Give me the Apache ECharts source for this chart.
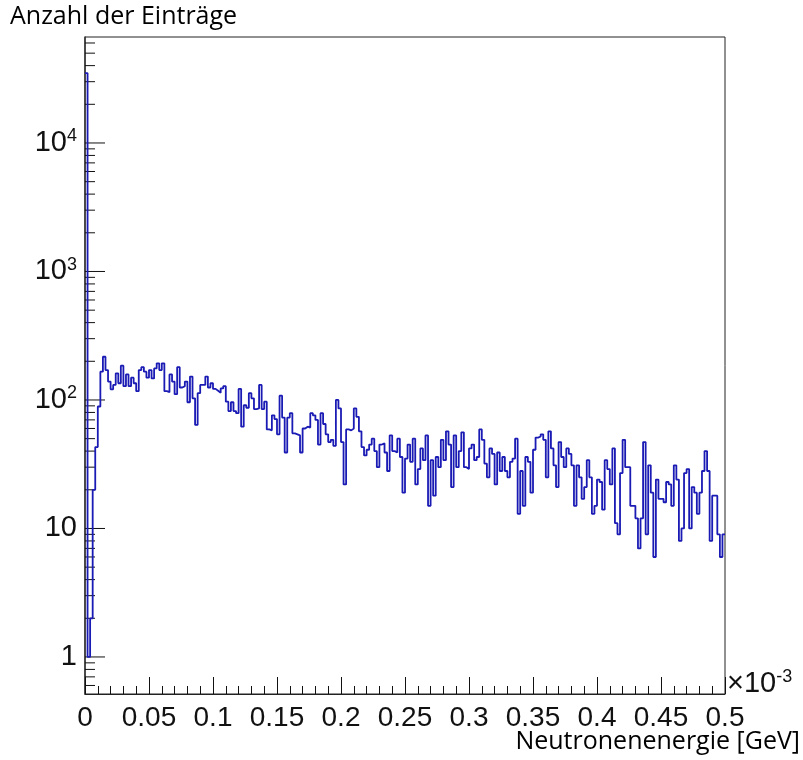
<!DOCTYPE html>
<html>
<head>
<meta charset="utf-8">
<script src="https://cdn.jsdelivr.net/npm/echarts@6/dist/echarts.min.js"></script>
<style>
  html, body { margin: 0; padding: 0; background: #fff; }
  #chart { width: 803px; height: 760px; }
</style>
</head>
<body>
<div id="chart"></div>
<script>
// Neutron energy histogram: 250 bins from 0 to 0.5 (x 10^-3 GeV)
const binWidth = 0.002;
const counts = [
  35000, 1, 2, 20, 43, 89, 166, 217, 171, 139,
  121, 131, 161, 135, 185, 128, 158, 128, 149, 135,
  117, 171, 180, 166, 149, 171, 147, 176, 193, 171,
  193, 117, 115, 158, 139, 111, 180, 125, 128, 139,
  96, 152, 103, 64, 113, 131, 131, 152, 125, 135,
  122, 118, 114, 123, 128, 97, 82, 96, 82, 79,
  122, 62, 91, 87, 113, 103, 85, 86, 131, 85,
  97, 59, 58, 76, 71, 54, 108, 73, 39, 73,
  79, 55, 54, 53, 39, 60, 62, 61, 79, 76,
  70, 45, 79, 65, 54, 47, 49, 44, 100, 86,
  47, 22, 59, 58, 60, 86, 74, 57, 43, 37,
  41, 45, 50, 40, 30, 45, 46, 39, 28, 53,
  40, 39, 50, 36, 19, 35, 45, 33, 50, 22,
  29, 42, 34, 53, 15, 34, 18, 36, 30, 49,
  34, 57, 45, 21, 53, 30, 40, 56, 30, 29,
  42, 45, 34, 36, 59, 49, 32, 25, 42, 38,
  22, 39, 28, 36, 28, 25, 33, 35, 50, 13,
  28, 15, 36, 33, 19, 41, 51, 52, 54, 49,
  25, 57, 42, 31, 21, 47, 36, 30, 42, 38,
  31, 15, 31, 25, 17, 21, 34, 25, 13, 15,
  24, 23, 14, 34, 29, 22, 42, 11, 9, 27,
  49, 30, 30, 15, 15, 12, 7, 12, 47, 9,
  31, 19, 6, 24, 17, 17, 16, 23, 22, 15,
  31, 24, 8, 10, 27, 29, 10, 21, 19, 13,
  19, 28, 40, 28, 8, 18, 18, 9, 6, 9
];

// Axis ranges and tick values
const xRange = [0, 0.5];
const xTickStep = 0.05;
const yRange = [0.515, 66800];
const yMajorTicks = [1, 10, 100, 1000, 10000];
const yMinorTicks = [
  0.6, 0.7, 0.8, 0.9,
  2, 3, 4, 5, 6, 7, 8, 9,
  20, 30, 40, 50, 60, 70, 80, 90,
  200, 300, 400, 500, 600, 700, 800, 900,
  2000, 3000, 4000, 5000, 6000, 7000, 8000, 9000,
  20000, 30000, 40000, 50000, 60000
];

// Step outline: each bin starts at its low edge; the last bin closes at the upper limit
const histPoints = counts.map((c, i) => [i * binWidth, c]);
histPoints.push([xRange[1], counts[counts.length - 1]]);

const tickData = yMajorTicks.map(v => [0, v, 20])
  .concat(yMinorTicks.map(v => [0, v, 10]));

const labelFont = 'Liberation Sans, Arial, sans-serif';
const titleFont = 'Open Sans, sans-serif';

const chart = echarts.init(document.getElementById('chart'), null, { renderer: 'canvas' });

chart.setOption({
  animation: false,
  backgroundColor: '#ffffff',
  grid: {
    left: 85, right: 78, top: 37, bottom: 66,
    show: true, borderColor: '#222', borderWidth: 1, backgroundColor: 'transparent'
  },
  xAxis: {
    type: 'value',
    min: xRange[0], max: xRange[1], interval: xTickStep,
    axisLine: { show: true, onZero: false, lineStyle: { color: '#222', width: 1 } },
    axisTick: { show: true, inside: true, length: 17, lineStyle: { color: '#111', width: 1 } },
    minorTick: { show: true, splitNumber: 5, length: 8, lineStyle: { color: '#111', width: 1 } },
    splitLine: { show: false },
    axisLabel: {
      color: '#111', fontFamily: labelFont, fontSize: 28, margin: 10,
      showMaxLabel: true,
      formatter: v => String(Math.round(v * 100) / 100)
    }
  },
  yAxis: {
    type: 'log', logBase: 10,
    min: yRange[0], max: yRange[1],
    axisLine: { show: true, lineStyle: { color: '#333', width: 1.5 } },
    axisTick: { show: false },
    splitLine: { show: false },
    axisLabel: {
      margin: 8,
      color: '#111',
      fontFamily: labelFont,
      formatter: function (v) {
        const e = Math.log10(v);
        const r = Math.round(e);
        if (Math.abs(e - r) > 1e-6) return '';
        if (r === 0) return '{n|1}';
        if (r === 1) return '{n|10}';
        return '{n|10}{s|' + r + '}';
      },
      rich: {
        n: { fontSize: 29, fontFamily: labelFont, color: '#111' },
        s: { fontSize: 18, fontFamily: labelFont, color: '#111', verticalAlign: 'bottom', padding: [0, 0, 13, 0] }
      }
    }
  },
  graphic: [
    {
      type: 'text', left: 10, top: 4,
      style: { text: 'Anzahl der Einträge', fontFamily: titleFont, fontSize: 25, fill: '#000' }
    },
    {
      type: 'text', right: 3, top: 729,
      style: { text: 'Neutronenenergie [GeV]', fontFamily: titleFont, fontSize: 25, fill: '#000' }
    },
    {
      type: 'text', left: 727, top: 668,
      style: {
        text: '{m|×10}{s|-3}',
        rich: {
          m: { fontSize: 29, fontFamily: labelFont, fill: '#111' },
          s: { fontSize: 18, fontFamily: labelFont, fill: '#111', verticalAlign: 'bottom', padding: [0, 0, 13, 0] }
        }
      }
    }
  ],
  series: [
    {
      // log-axis tick marks (decades long, 2..9 short) placed through the y scale
      type: 'custom',
      silent: true,
      data: tickData,
      renderItem: function (params, api) {
        const p = api.coord([api.value(0), api.value(1)]);
        const len = api.value(2);
        return {
          type: 'line',
          shape: { x1: p[0], y1: p[1], x2: p[0] + len, y2: p[1] },
          style: { stroke: '#111', lineWidth: 1 }
        };
      },
      z: 3
    },
    {
      type: 'line',
      step: 'end',
      data: histPoints,
      showSymbol: false,
      symbol: 'none',
      lineStyle: { color: '#1a1ab4', width: 1.8 },
      z: 4
    }
  ]
});
</script>
</body>
</html>
